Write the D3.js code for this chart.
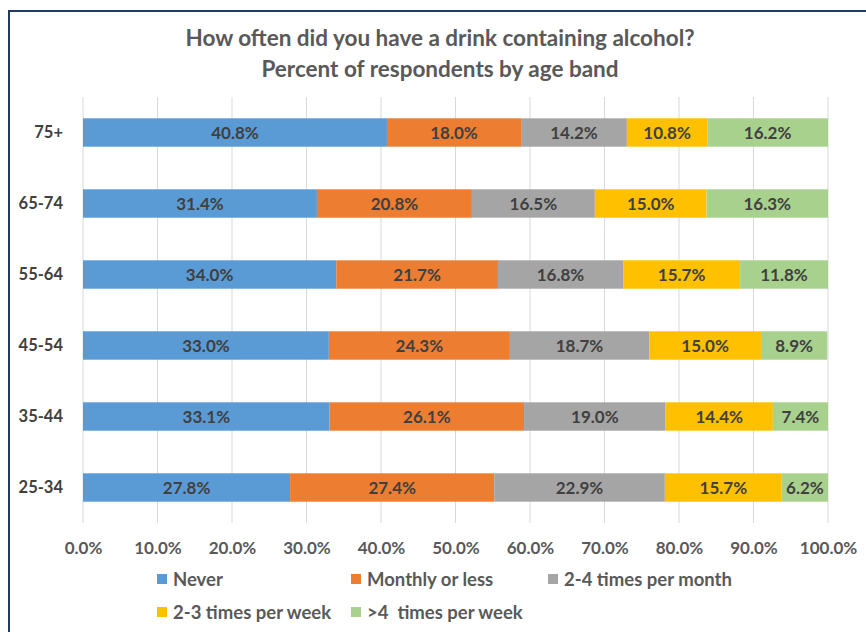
<!DOCTYPE html>
<html lang='en'>
<head>
  <meta charset='utf-8'>
  <script src="https://d3js.org/d3.v7.min.js"></script>
  <title>Alcohol frequency by age band</title>
  <style>
    body { margin: 0; background: #fff; }
    text { font-family: Lato, "Open Sans", sans-serif; font-weight: bold; }
  </style>
</head>
<body>
<div id="chart"></div>
<script>
// data
const ageBands = ["75+", "65-74", "55-64", "45-54", "35-44", "25-34"];
const seriesNames = ["Never", "Monthly or less", "2-4 times per month", "2-3 times per week", ">4  times per week"];
const never      = [40.8, 31.4, 34.0, 33.0, 33.1, 27.8];
const monthly    = [18.0, 20.8, 21.7, 24.3, 26.1, 27.4];
const twoFourPm  = [14.2, 16.5, 16.8, 18.7, 19.0, 22.9];
const twoThreePw = [10.8, 15.0, 15.7, 15.0, 14.4, 15.7];
const overFourPw = [16.2, 16.3, 11.8, 8.9, 7.4, 6.2];
const xTicks = [0, 10, 20, 30, 40, 50, 60, 70, 80, 90, 100];

const colors = ["#5b9bd5", "#ed7d31", "#a5a5a5", "#ffc000", "#a9d18e"];
const seriesValues = [never, monthly, twoFourPm, twoThreePw, overFourPw];

const W = 866, H = 632;
const margin = {top: 97, left: 83, right: 38, bottom: 110};

const svg = d3.select("#chart").append("svg")
  .attr("width", W).attr("height", H);

// frame
svg.append("rect")
  .attr("x", 9).attr("y", 11).attr("width", W + 10).attr("height", H + 10)
  .attr("fill", "#fff").attr("stroke", "#1f3b63").attr("stroke-width", 2);

// title
svg.append("text").attr("x", 440).attr("y", 46).attr("text-anchor", "middle")
  .attr("font-size", 22.5).attr("fill", "#595959")
  .text("How often did you have a drink containing alcohol?");
svg.append("text").attr("x", 440).attr("y", 77).attr("text-anchor", "middle")
  .attr("font-size", 22.5).attr("fill", "#595959")
  .text("Percent of respondents by age band");

const x = d3.scaleLinear().domain([0, 100]).range([margin.left, W - margin.right]);
const y = d3.scaleBand().domain(ageBands)
  .range([margin.top, margin.top + 426]).paddingInner(0.6).paddingOuter(0.3);

// gridlines
svg.append("g").selectAll("line").data(xTicks).join("line")
  .attr("x1", d => x(d)).attr("x2", d => x(d))
  .attr("y1", margin.top).attr("y2", margin.top + 426)
  .attr("stroke", "#d9d9d9").attr("stroke-width", 1);

// stacked rows
const rows = ageBands.map((band, i) => {
  const obj = {band};
  seriesNames.forEach((s, j) => obj[s] = seriesValues[j][i]);
  return obj;
});
const stacked = d3.stack().keys(seriesNames)(rows);

const layer = svg.append("g").selectAll("g").data(stacked).join("g")
  .attr("fill", (d, i) => colors[i]);

layer.selectAll("rect").data(d => d).join("rect")
  .attr("x", d => x(d[0]))
  .attr("y", d => y(d.data.band))
  .attr("width", d => x(d[1]) - x(d[0]))
  .attr("height", y.bandwidth());

layer.selectAll("text").data(d => d).join("text")
  .attr("x", d => (x(d[0]) + x(d[1])) / 2)
  .attr("y", d => y(d.data.band) + y.bandwidth() / 2)
  .attr("dy", "0.36em")
  .attr("text-anchor", "middle")
  .attr("font-size", 17)
  .attr("fill", "#404040")
  .text(d => (d[1] - d[0]).toFixed(1) + "%");

// y axis labels
const yAxis = svg.append("g")
  .attr("transform", `translate(${margin.left},0)`)
  .call(d3.axisLeft(y).tickSize(0).tickPadding(20));
yAxis.select(".domain").remove();
yAxis.selectAll("text").attr("font-size", 16.5).attr("fill", "#404040")
  .style("font-family", "Lato, sans-serif").style("font-weight", "bold");

// x axis labels
const xAxis = svg.append("g")
  .attr("transform", `translate(0,${margin.top + 426})`)
  .call(d3.axisBottom(x).tickValues(xTicks).tickSize(0).tickPadding(19)
    .tickFormat(d => d.toFixed(1) + "%"));
xAxis.select(".domain").remove();
xAxis.selectAll("text").attr("font-size", 17).attr("fill", "#595959")
  .style("font-family", "Lato, sans-serif").style("font-weight", "bold");

// legend
const legendPos = [[157, 580], [351, 580], [548, 580], [157, 613], [351, 613]];
const legend = svg.append("g").selectAll("g").data(seriesNames).join("g")
  .attr("transform", (d, i) => `translate(${legendPos[i][0]},${legendPos[i][1]})`);
legend.append("rect").attr("x", 0).attr("y", -6).attr("width", 10).attr("height", 10)
  .attr("fill", (d, i) => colors[i]);
legend.append("text").attr("x", 16).attr("y", 0).attr("dy", "0.35em")
  .attr("font-size", 18.5).attr("fill", "#595959")
  .attr("xml:space", "preserve").style("white-space", "pre")
  .text(d => d);
</script>
</body>
</html>
